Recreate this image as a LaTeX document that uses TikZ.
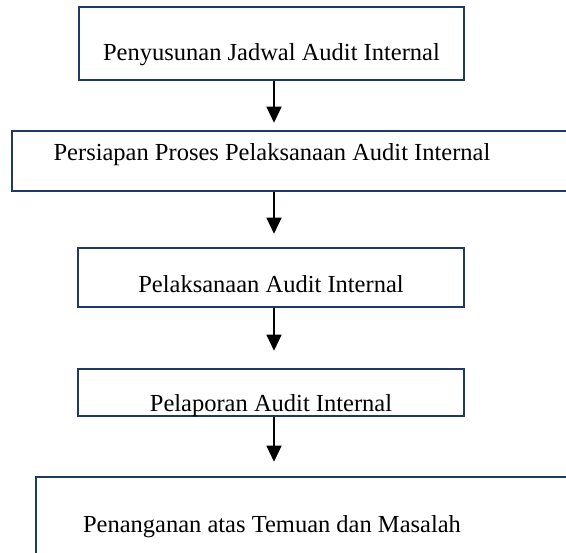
\documentclass[tikz,border=0pt]{standalone}
\usepackage{fontspec}
\setmainfont{Liberation Serif}
\usetikzlibrary{arrows.meta}
\definecolor{boxblue}{HTML}{1F3864}

\tikzset{
  box/.style={draw=boxblue, line width=2.5pt, inner sep=0pt},
  lbl/.style={font=\fontsize{24.5}{29}\selectfont, anchor=base, inner sep=0pt},
  arr/.style={-{Triangle[width=15pt,length=16pt]}, line width=1.1pt}
}

\begin{document}
\begin{tikzpicture}[x=1pt,y=-1pt]
    \useasboundingbox (0,0) rectangle (566,553);

    % boxes
    \node[box, minimum width=385pt, minimum height=73pt] (b1) at (271.5,43.5) {};
    \node[box, minimum width=568pt, minimum height=60pt] (b2) at (296,161) {};
    \node[box, minimum width=386pt, minimum height=59pt] (b3) at (271,277.5) {};
    \node[box, minimum width=386pt, minimum height=47pt] (b4) at (271,392.5) {};
    \node[box, minimum width=564pt, minimum height=123pt] (b5) at (318,538.5) {};

    % labels
    \node[lbl] (t1) at (271.5,61) {Penyusunan Jadwal Audit Internal};
    \node[lbl] (t2) at (272,161) {Persiapan Proses Pelaksanaan Audit Internal};
    \node[lbl] (t3) at (271,293) {Pelaksanaan Audit Internal};
    \node[lbl] (t4) at (271,412) {Pelaporan Audit Internal};
    \node[lbl] (t5) at (272,533) {Penanganan atas Temuan dan Masalah};

    % arrows
    \coordinate (ax) at (274,0);
    \draw[arr, shorten >=7pt] (b1.south -| ax) -- (b2.north -| ax);
    \draw[arr, shorten >=13pt] (b2.south -| ax) -- (b3.north -| ax);
    \draw[arr, shorten >=17pt] (b3.south -| ax) -- (b4.north -| ax);
    \draw[arr, shorten >=14pt] (b4.south -| ax) -- (b5.north -| ax);

\end{tikzpicture}
\end{document}
